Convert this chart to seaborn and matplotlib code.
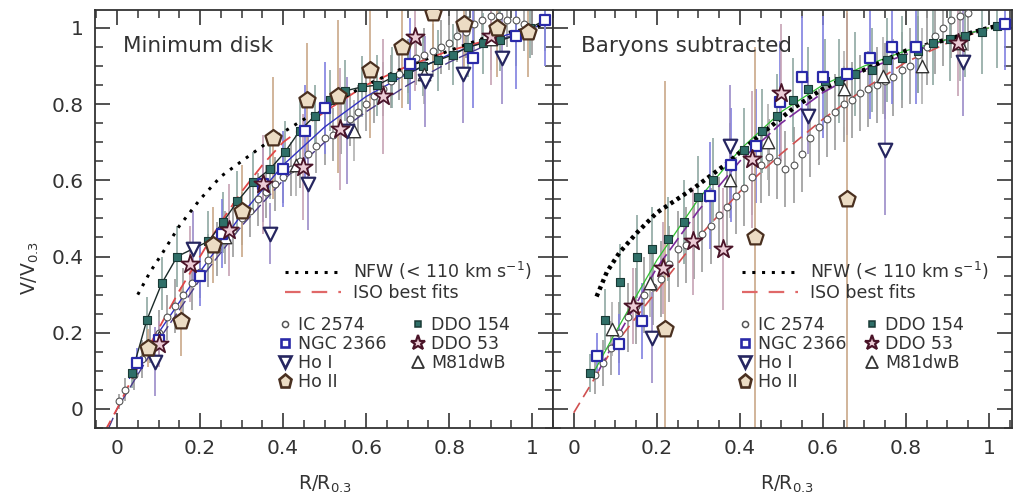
import matplotlib
matplotlib.use("Agg")
import matplotlib.pyplot as plt
import seaborn as sns
from matplotlib.lines import Line2D
from matplotlib.ticker import MultipleLocator, FixedLocator, FixedFormatter

sns.set_theme(style="ticks")
plt.rcParams['font.family'] = ['DejaVu Sans']

# ---------------- data: Minimum disk (left) ----------------
ic_min_x = [0.005, 0.02, 0.04, 0.06, 0.08, 0.10, 0.12, 0.14, 0.16, 0.18, 0.20, 0.22, 0.24, 0.26,
            0.28, 0.30, 0.32, 0.34, 0.36, 0.38, 0.40, 0.42, 0.44, 0.46, 0.48, 0.50, 0.52, 0.54,
            0.56, 0.58, 0.60, 0.62, 0.64, 0.66, 0.68, 0.70, 0.72, 0.74, 0.76, 0.78, 0.80, 0.82,
            0.84, 0.86, 0.88, 0.90, 0.92, 0.94, 0.96, 0.98, 1.00]
ic_min_y = [0.02, 0.05, 0.09, 0.13, 0.17, 0.20, 0.24, 0.27, 0.30, 0.33, 0.36, 0.39, 0.42, 0.45,
            0.47, 0.50, 0.52, 0.55, 0.57, 0.59, 0.61, 0.63, 0.65, 0.67, 0.69, 0.71, 0.72, 0.74,
            0.76, 0.78, 0.80, 0.82, 0.84, 0.86, 0.88, 0.90, 0.92, 0.93, 0.94, 0.95, 0.96, 0.98,
            0.99, 1.01, 1.02, 1.03, 1.03, 1.02, 1.02, 1.01, 1.00]
ic_min_e = [0.02, 0.03, 0.04, 0.05, 0.05, 0.06, 0.06, 0.07, 0.07, 0.07, 0.07, 0.07, 0.07, 0.07,
            0.07, 0.07, 0.07, 0.07, 0.07, 0.07, 0.07, 0.07, 0.07, 0.07, 0.07, 0.07, 0.07, 0.07,
            0.07, 0.07, 0.07, 0.07, 0.07, 0.07, 0.07, 0.07, 0.07, 0.07, 0.07, 0.07, 0.07, 0.07,
            0.07, 0.07, 0.07, 0.07, 0.07, 0.07, 0.07, 0.07, 0.07]

ngc_min_x = [0.048, 0.10, 0.20, 0.253, 0.352, 0.40, 0.453, 0.50, 0.706, 0.858, 0.96, 1.03]
ngc_min_y = [0.12, 0.18, 0.35, 0.46, 0.59, 0.63, 0.73, 0.79, 0.905, 0.92, 0.98, 1.02]
ngc_min_e = [0.04, 0.05, 0.08, 0.09, 0.10, 0.10, 0.12, 0.12, 0.12, 0.13, 0.14, 0.12]

hoi_min_x = [0.092, 0.183, 0.369, 0.46, 0.554, 0.742, 0.834, 0.928]
hoi_min_y = [0.124, 0.42, 0.46, 0.59, 0.73, 0.86, 0.88, 0.92]
hoi_min_e = [0.09, 0.10, 0.08, 0.12, 0.14, 0.12, 0.13, 0.12]

hoii_min_x = [0.075, 0.154, 0.23, 0.30, 0.376, 0.458, 0.533, 0.61, 0.687, 0.76, 0.836, 0.916, 0.99]
hoii_min_y = [0.16, 0.23, 0.43, 0.52, 0.71, 0.81, 0.82, 0.89, 0.95, 1.04, 1.01, 1.00, 0.99]
hoii_min_e = [0.05, 0.09, 0.10, 0.12, 0.16, 0.15, 0.20, 0.18, 0.16, 0.15, 0.14, 0.13, 0.12]

d154_min_x = [0.036, 0.072, 0.108, 0.145, 0.22, 0.255, 0.29, 0.328, 0.369, 0.405, 0.44, 0.477,
              0.513, 0.55, 0.59, 0.627, 0.663, 0.70, 0.737, 0.773, 0.81, 0.846, 0.882, 0.923,
              0.96, 0.995, 1.03]
d154_min_y = [0.095, 0.234, 0.33, 0.40, 0.44, 0.49, 0.545, 0.595, 0.63, 0.675, 0.73, 0.77,
              0.81, 0.835, 0.845, 0.85, 0.87, 0.88, 0.90, 0.915, 0.93, 0.95, 0.96, 0.967,
              0.98, 1.00, 1.02]
d154_min_e = [0.04, 0.06, 0.07, 0.08, 0.08, 0.08, 0.08, 0.08, 0.08, 0.08, 0.08, 0.08,
              0.08, 0.08, 0.08, 0.08, 0.08, 0.08, 0.08, 0.08, 0.08, 0.08, 0.08, 0.08,
              0.08, 0.08, 0.08]

d53_min_x = [0.10, 0.176, 0.27, 0.352, 0.448, 0.537, 0.64, 0.718, 0.90]
d53_min_y = [0.17, 0.38, 0.47, 0.59, 0.635, 0.735, 0.82, 0.975, 0.98]
d53_min_e = [0.06, 0.10, 0.12, 0.13, 0.14, 0.16, 0.15, 0.14, 0.13]

m81_min_x = [0.10, 0.26, 0.43, 0.57, 0.74, 0.90]
m81_min_y = [0.19, 0.45, 0.64, 0.73, 0.88, 0.97]
m81_min_e = [0.05, 0.07, 0.08, 0.08, 0.08, 0.08]

nfw_min_x = [0.05, 0.08, 0.11, 0.15, 0.20, 0.25, 0.30, 0.376, 0.45, 0.50, 0.60, 0.70, 0.80, 0.90, 1.00, 1.03]
nfw_min_y = [0.30, 0.36, 0.41, 0.48, 0.55, 0.61, 0.65, 0.71, 0.76, 0.79, 0.85, 0.90, 0.94, 0.98, 1.00, 1.01]

iso_red_min_x = [-0.03, 0.0, 0.05, 0.10, 0.15, 0.20, 0.25, 0.30, 0.35, 0.40, 0.50, 0.60, 0.70, 0.80, 0.90, 1.00]
iso_red_min_y = [-0.06, 0.0, 0.11, 0.21, 0.31, 0.40, 0.49, 0.57, 0.64, 0.70, 0.78, 0.85, 0.90, 0.94, 0.97, 1.00]
iso_blue_min_x = [0.03, 0.10, 0.20, 0.30, 0.40, 0.50, 0.60, 0.70, 0.80, 0.90, 1.00, 1.03]
iso_blue_min_y = [0.08, 0.20, 0.36, 0.51, 0.64, 0.74, 0.82, 0.88, 0.93, 0.97, 1.00, 1.01]
iso_navy_min_x = [-0.02, 0.0, 0.10, 0.20, 0.30, 0.40, 0.50, 0.60, 0.70, 0.80, 0.90, 1.00]
iso_navy_min_y = [-0.05, 0.0, 0.18, 0.34, 0.48, 0.60, 0.70, 0.78, 0.85, 0.91, 0.96, 1.00]

# ---------------- data: Baryons subtracted (right) ----------------
ic_bar_x = [0.05, 0.07, 0.09, 0.11, 0.13, 0.15, 0.17, 0.19, 0.21, 0.23, 0.25, 0.27, 0.29, 0.31,
            0.33, 0.35, 0.37, 0.39, 0.41, 0.43, 0.45, 0.47, 0.49, 0.51, 0.53, 0.55, 0.57, 0.59,
            0.61, 0.63, 0.65, 0.67, 0.69, 0.71, 0.73, 0.75, 0.77, 0.79, 0.81, 0.83, 0.85, 0.87,
            0.89, 0.91, 0.93, 0.95]
ic_bar_y = [0.09, 0.12, 0.16, 0.20, 0.24, 0.27, 0.30, 0.32, 0.34, 0.38, 0.42, 0.43, 0.44, 0.46,
            0.48, 0.51, 0.53, 0.56, 0.58, 0.61, 0.64, 0.66, 0.65, 0.63, 0.64, 0.67, 0.71, 0.74,
            0.76, 0.78, 0.80, 0.81, 0.83, 0.84, 0.85, 0.86, 0.87, 0.89, 0.90, 0.93, 0.95, 0.98,
            1.00, 1.02, 1.03, 1.04]
ic_bar_e = [0.05, 0.06, 0.07, 0.08, 0.09, 0.10, 0.10, 0.10, 0.10, 0.10, 0.10, 0.10, 0.10, 0.10,
            0.10, 0.10, 0.10, 0.10, 0.10, 0.10, 0.10, 0.10, 0.10, 0.10, 0.10, 0.10, 0.10, 0.10,
            0.10, 0.10, 0.10, 0.10, 0.10, 0.10, 0.10, 0.10, 0.10, 0.10, 0.10, 0.10, 0.10, 0.10,
            0.10, 0.10, 0.10, 0.10]

ngc_bar_x = [0.055, 0.11, 0.164, 0.328, 0.38, 0.44, 0.496, 0.55, 0.60, 0.658, 0.713, 0.766, 0.824, 1.04]
ngc_bar_y = [0.14, 0.17, 0.23, 0.56, 0.64, 0.69, 0.805, 0.87, 0.87, 0.88, 0.92, 0.95, 0.95, 1.01]
ngc_bar_e = [0.06, 0.08, 0.10, 0.14, 0.15, 0.15, 0.16, 0.16, 0.16, 0.16, 0.16, 0.15, 0.15, 0.12]

hoi_bar_x = [0.188, 0.376, 0.564, 0.75, 0.937]
hoi_bar_y = [0.187, 0.69, 0.77, 0.68, 0.91]
hoi_bar_e = [0.12, 0.16, 0.10, 0.17, 0.14]

hoii_bar_x = [0.22, 0.436, 0.658]
hoii_bar_y = [0.21, 0.45, 0.55]
hoii_bar_e = [0.65, 0.50, 0.60]

d154_bar_x = [0.039, 0.075, 0.111, 0.152, 0.188, 0.227, 0.265, 0.30, 0.335, 0.376, 0.41, 0.453,
              0.49, 0.528, 0.564, 0.605, 0.64, 0.677, 0.718, 0.754, 0.79, 0.829, 0.865, 0.906,
              0.942, 0.983, 1.02]
d154_bar_y = [0.095, 0.234, 0.334, 0.40, 0.42, 0.445, 0.49, 0.555, 0.60, 0.64, 0.68, 0.73,
              0.77, 0.81, 0.84, 0.86, 0.86, 0.88, 0.89, 0.915, 0.92, 0.94, 0.96, 0.97,
              0.98, 0.99, 1.005]
d154_bar_e = [0.05, 0.08, 0.10, 0.11, 0.11, 0.11, 0.11, 0.11, 0.11, 0.11, 0.11, 0.11,
              0.11, 0.11, 0.11, 0.11, 0.11, 0.11, 0.11, 0.11, 0.11, 0.11, 0.11, 0.11,
              0.11, 0.11, 0.11]

d53_bar_x = [0.142, 0.214, 0.287, 0.36, 0.43, 0.50, 0.925]
d53_bar_y = [0.27, 0.37, 0.44, 0.42, 0.655, 0.83, 0.96]
d53_bar_e = [0.10, 0.12, 0.14, 0.16, 0.18, 0.18, 0.14]

m81_bar_x = [0.092, 0.183, 0.376, 0.467, 0.65, 0.745, 0.84, 0.93]
m81_bar_y = [0.21, 0.33, 0.60, 0.70, 0.84, 0.875, 0.90, 0.96]
m81_bar_e = [0.07, 0.09, 0.10, 0.10, 0.10, 0.10, 0.10, 0.10]

nfw_bar_x = [0.055, 0.08, 0.11, 0.15, 0.20, 0.29, 0.37, 0.45, 0.53, 0.60, 0.70, 0.80, 0.90, 1.00, 1.04]
nfw_bar_y = [0.295, 0.36, 0.41, 0.46, 0.515, 0.58, 0.645, 0.72, 0.79, 0.84, 0.89, 0.94, 0.97, 1.00, 1.01]

iso_green_bar_x = [0.05, 0.10, 0.20, 0.30, 0.40, 0.50, 0.60, 0.70, 0.80, 0.90, 1.00]
iso_green_bar_y = [0.10, 0.20, 0.39, 0.55, 0.68, 0.78, 0.85, 0.90, 0.94, 0.97, 1.00]
iso_purple_bar_x = [0.06, 0.10, 0.20, 0.30, 0.40, 0.50, 0.60, 0.70, 0.80, 0.90, 1.00]
iso_purple_bar_y = [0.10, 0.18, 0.37, 0.52, 0.65, 0.75, 0.83, 0.89, 0.93, 0.97, 1.00]
iso_red_bar_x = [0.0, 0.05, 0.10, 0.20, 0.30, 0.40, 0.50, 0.60, 0.70, 0.80, 0.90, 1.00]
iso_red_bar_y = [-0.01, 0.08, 0.17, 0.31, 0.45, 0.57, 0.67, 0.76, 0.84, 0.91, 0.96, 1.00]

tick_vals = [0, 0.2, 0.4, 0.6, 0.8, 1]
tick_labels = ["0", "0.2", "0.4", "0.6", "0.8", "1"]

# ---------------- styles ----------------
TXT = "#333333"
styles = {
    "IC 2574": dict(marker="o", s=24, fc="white", ec="#555555", lw=0.8, err="#9a9a9a"),
    "NGC 2366": dict(marker="s", s=50, fc="white", ec="#2a2aa8", lw=1.6, err="#8080e0"),
    "Ho I": dict(marker="v", s=95, fc="white", ec="#262660", lw=1.6, err="#9a8ac8"),
    "Ho II": dict(marker="p", s=150, fc="#ecdcc4", ec="#4a3020", lw=1.6, err="#c9a888"),
    "DDO 154": dict(marker="s", s=28, fc="#2f6f68", ec="#1a3a36", lw=0.8, err="#8ea8a2"),
    "DDO 53": dict(marker="*", s=190, fc="#ecccd6", ec="#4a1428", lw=1.3, err="#c6a2b4"),
    "M81dwB": dict(marker="^", s=80, fc="white", ec="#333333", lw=1.0, err="#b0b0b0"),
}

left_sets = [
    ("IC 2574", ic_min_x, ic_min_y, ic_min_e),
    ("DDO 154", d154_min_x, d154_min_y, d154_min_e),
    ("M81dwB", m81_min_x, m81_min_y, m81_min_e),
    ("NGC 2366", ngc_min_x, ngc_min_y, ngc_min_e),
    ("Ho I", hoi_min_x, hoi_min_y, hoi_min_e),
    ("DDO 53", d53_min_x, d53_min_y, d53_min_e),
    ("Ho II", hoii_min_x, hoii_min_y, hoii_min_e),
]
right_sets = [
    ("IC 2574", ic_bar_x, ic_bar_y, ic_bar_e),
    ("DDO 154", d154_bar_x, d154_bar_y, d154_bar_e),
    ("M81dwB", m81_bar_x, m81_bar_y, m81_bar_e),
    ("NGC 2366", ngc_bar_x, ngc_bar_y, ngc_bar_e),
    ("Ho I", hoi_bar_x, hoi_bar_y, hoi_bar_e),
    ("DDO 53", d53_bar_x, d53_bar_y, d53_bar_e),
    ("Ho II", hoii_bar_x, hoii_bar_y, hoii_bar_e),
]

fig = plt.figure(figsize=(10.17, 4.95), dpi=100)
axL = fig.add_axes([95 / 1017, 67 / 495, 458 / 1017, 418 / 495])
axR = fig.add_axes([553 / 1017, 67 / 495, 459 / 1017, 418 / 495])


def draw_points(ax, sets):
    for name, x, y, e in sets:
        st = styles[name]
        ax.errorbar(x, y, yerr=e, fmt="none", ecolor=st["err"], elinewidth=1.4,
                    alpha=0.85, zorder=1)
    for name, x, y, e in sets:
        st = styles[name]
        sns.scatterplot(x=x, y=y, marker=st["marker"], s=st["s"], color=st["fc"],
                        edgecolor=st["ec"], linewidth=st["lw"], ax=ax, zorder=4, legend=False)


def line(ax, x, y, **kw):
    sns.lineplot(x=x, y=y, ax=ax, sort=False, estimator=None, legend=False, **kw)


# left panel lines
line(axL, iso_navy_min_x, iso_navy_min_y, color="#4a3a8a", lw=1.0, dashes=(8, 3), zorder=2)
line(axL, iso_blue_min_x, iso_blue_min_y, color="#3030c0", lw=1.0, zorder=2)
line(axL, iso_red_min_x, iso_red_min_y, color="#e04848", lw=1.3, dashes=(7, 4), zorder=2)
line(axL, d154_min_x, d154_min_y, color="#1a2a28", lw=1.0, zorder=3)
line(axL, nfw_min_x, nfw_min_y, color="black", lw=2.2, dashes=(1, 2.2), zorder=3)
draw_points(axL, left_sets)

# right panel lines
line(axR, iso_red_bar_x, iso_red_bar_y, color="#d05050", lw=1.2, dashes=(7, 4), zorder=2)
line(axR, iso_purple_bar_x, iso_purple_bar_y, color="#7a2a9a", lw=1.2, dashes=(9, 3), zorder=2)
line(axR, iso_green_bar_x, iso_green_bar_y, color="#30c030", lw=0.9, zorder=2)
line(axR, nfw_bar_x, nfw_bar_y, color="black", lw=3.2, dashes=(0.8, 0.9), zorder=3)
draw_points(axR, right_sets)

for ax, lbl, xmin, xmax in [(axL, "Minimum disk", -0.053, 1.05), (axR, "Baryons subtracted", -0.05, 1.056)]:
    ax.set_xlim(xmin, xmax)
    ax.set_ylim(-0.05, 1.047)
    ax.xaxis.set_major_locator(FixedLocator(tick_vals))
    ax.xaxis.set_major_formatter(FixedFormatter(tick_labels))
    ax.yaxis.set_major_locator(FixedLocator(tick_vals))
    ax.yaxis.set_major_formatter(FixedFormatter(tick_labels))
    ax.xaxis.set_minor_locator(MultipleLocator(0.05))
    ax.yaxis.set_minor_locator(MultipleLocator(0.05))
    ax.tick_params(which="both", direction="in", top=True, right=True, color="#333333",
                   labelcolor=TXT, labelsize=14.5)
    ax.tick_params(which="major", length=11, width=1.2)
    ax.tick_params(which="minor", length=5.5, width=1.1)
    ax.tick_params(axis="x", pad=8)
    ax.tick_params(axis="y", pad=8)
    for sp in ax.spines.values():
        sp.set_color("#333333")
        sp.set_linewidth(1.3)
    ax.text(0.062, 0.915, lbl, transform=ax.transAxes, fontsize=15.5, color=TXT,
            ha="left", va="center")
    ax.set_xlabel("")
    ax.set_ylabel("")

axR.tick_params(axis="y", labelleft=False)

fig.text(30 / 1017, 1 - 268 / 495, r"V/V$_{0.3}$", rotation=90, fontsize=13.5, color=TXT,
         ha="center", va="center")
fig.text(325 / 1017, 1 - 484 / 495, r"R/R$_{0.3}$", fontsize=13.5, color=TXT, ha="center", va="center")
fig.text(787 / 1017, 1 - 484 / 495, r"R/R$_{0.3}$", fontsize=13.5, color=TXT, ha="center", va="center")


def marker_handle(name):
    st = styles[name]
    ms = st["s"] ** 0.5 * (0.8 if name in ("Ho II", "DDO 53") else 0.9)
    return Line2D([], [], linestyle="none", marker=st["marker"], markersize=ms,
                  markerfacecolor=st["fc"], markeredgecolor=st["ec"], markeredgewidth=st["lw"] + 0.3)


def add_legends(ax, x_line, x_col1, x_col2):
    lh = [Line2D([], [], color="black", lw=2.2, dashes=(1, 2.2)),
          Line2D([], [], color="#e06868", lw=1.6, dashes=(7, 5))]
    leg1 = ax.legend(lh, ["NFW (< 110 km s$^{-1}$)", "ISO best fits"], loc="upper left",
                     bbox_to_anchor=(x_line, 0.402), frameon=False, fontsize=12.5,
                     handlelength=3.2, handletextpad=0.7, labelspacing=0.12,
                     borderpad=0, borderaxespad=0, labelcolor=TXT)
    ax.add_artist(leg1)
    c1 = ["IC 2574", "NGC 2366", "Ho I", "Ho II"]
    leg2 = ax.legend([marker_handle(n) for n in c1], c1, loc="upper left",
                     bbox_to_anchor=(x_col1, 0.268), frameon=False, fontsize=12.5,
                     handlelength=0.8, handletextpad=0.35, labelspacing=0.05,
                     borderpad=0, borderaxespad=0, labelcolor=TXT)
    ax.add_artist(leg2)
    c2 = ["DDO 154", "DDO 53", "M81dwB"]
    ax.legend([marker_handle(n) for n in c2], c2, loc="upper left",
              bbox_to_anchor=(x_col2, 0.268), frameon=False, fontsize=12.5,
              handlelength=0.8, handletextpad=0.35, labelspacing=0.05,
              borderpad=0, borderaxespad=0, labelcolor=TXT)


add_legends(axL, 0.415, 0.40, 0.69)
add_legends(axR, 0.412, 0.403, 0.68)

fig.savefig("out.png", dpi=100)
